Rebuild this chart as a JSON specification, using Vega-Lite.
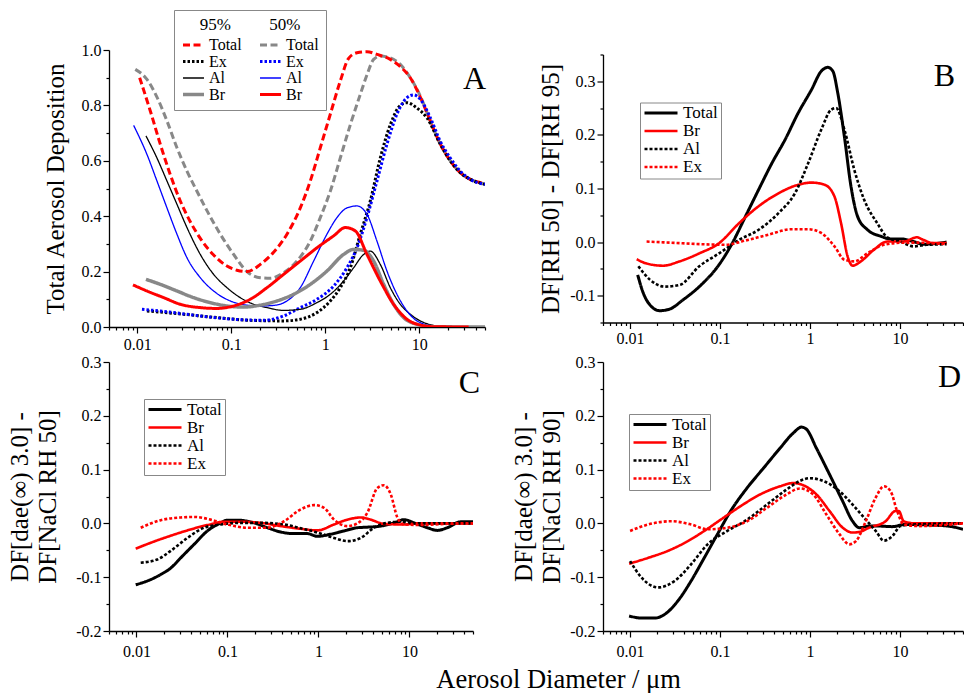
{
  "$schema": "https://vega.github.io/schema/vega-lite/v6.json",
  "padding": {"left": 7, "top": 9, "right": 0, "bottom": 0},
  "autosize": {"type": "pad"},
  "background": "white",
  "config": {
    "font": "Liberation Serif",
    "view": {"stroke": null},
    "axis": {"domainColor": "black", "tickColor": "black", "labelColor": "black", "titleColor": "black", "labelFont": "Liberation Serif", "titleFont": "Liberation Serif", "labelFontSize": 16, "titleFontSize": 25, "titleFontWeight": "normal", "grid": false, "domainWidth": 1.3, "tickWidth": 1.2, "labelOverlap": false, "labelFlush": false, "titleLineHeight": 28},
    "legend": {"labelFont": "Liberation Serif", "titleFont": "Liberation Serif", "labelColor": "black", "titleColor": "black", "labelFontSize": 17, "titleFontSize": 17, "titleFontWeight": "normal", "strokeColor": "#888888", "fillColor": "white", "symbolType": "stroke"},
    "title": {"font": "Liberation Serif", "fontWeight": "normal", "color": "black"}
  },
  "title": {"text": "Aerosol Diameter / μm", "orient": "bottom", "anchor": "middle", "fontSize": 26.5, "offset": 8, "dx": 73},
  "data": {"values": [
    {"p":"A","s":"Total 50","d":0.00952,"v":0.93},{"p":"A","s":"Total 50","d":0.01267,"v":0.894},{"p":"A","s":"Total 50","d":0.01619,"v":0.83},{"p":"A","s":"Total 50","d":0.02068,"v":0.744},{"p":"A","s":"Total 50","d":0.02642,"v":0.647},{"p":"A","s":"Total 50","d":0.03376,"v":0.563},{"p":"A","s":"Total 50","d":0.04313,"v":0.49},{"p":"A","s":"Total 50","d":0.0551,"v":0.42},{"p":"A","s":"Total 50","d":0.07638,"v":0.335},{"p":"A","s":"Total 50","d":0.1059,"v":0.262},{"p":"A","s":"Total 50","d":0.1468,"v":0.2},{"p":"A","s":"Total 50","d":0.2035,"v":0.178},{"p":"A","s":"Total 50","d":0.2599,"v":0.176},{"p":"A","s":"Total 50","d":0.3603,"v":0.196},{"p":"A","s":"Total 50","d":0.4995,"v":0.238},{"p":"A","s":"Total 50","d":0.6925,"v":0.31},{"p":"A","s":"Total 50","d":0.8846,"v":0.395},{"p":"A","s":"Total 50","d":1.13,"v":0.49},{"p":"A","s":"Total 50","d":1.444,"v":0.61},{"p":"A","s":"Total 50","d":1.845,"v":0.73},{"p":"A","s":"Total 50","d":2.357,"v":0.84},{"p":"A","s":"Total 50","d":2.775,"v":0.91},{"p":"A","s":"Total 50","d":3.267,"v":0.966},{"p":"A","s":"Total 50","d":3.846,"v":0.978},{"p":"A","s":"Total 50","d":4.914,"v":0.972},{"p":"A","s":"Total 50","d":6.278,"v":0.948},{"p":"A","s":"Total 50","d":8.02,"v":0.9},{"p":"A","s":"Total 50","d":10.25,"v":0.834},{"p":"A","s":"Total 50","d":13.09,"v":0.744},{"p":"A","s":"Total 50","d":16.73,"v":0.66},{"p":"A","s":"Total 50","d":21.37,"v":0.6},{"p":"A","s":"Total 50","d":27.31,"v":0.557},{"p":"A","s":"Total 50","d":34.88,"v":0.533},{"p":"A","s":"Total 50","d":44.57,"v":0.521},{"p":"A","s":"Total 50","d":50,"v":0.515},
    {"p":"A","s":"Total 95","d":0.01059,"v":0.9},{"p":"A","s":"Total 95","d":0.01375,"v":0.78},{"p":"A","s":"Total 95","d":0.01756,"v":0.66},{"p":"A","s":"Total 95","d":0.02244,"v":0.55},{"p":"A","s":"Total 95","d":0.02867,"v":0.455},{"p":"A","s":"Total 95","d":0.03663,"v":0.38},{"p":"A","s":"Total 95","d":0.0468,"v":0.32},{"p":"A","s":"Total 95","d":0.06488,"v":0.26},{"p":"A","s":"Total 95","d":0.08993,"v":0.22},{"p":"A","s":"Total 95","d":0.1149,"v":0.205},{"p":"A","s":"Total 95","d":0.1468,"v":0.2},{"p":"A","s":"Total 95","d":0.2035,"v":0.226},{"p":"A","s":"Total 95","d":0.282,"v":0.27},{"p":"A","s":"Total 95","d":0.3909,"v":0.335},{"p":"A","s":"Total 95","d":0.542,"v":0.43},{"p":"A","s":"Total 95","d":0.6925,"v":0.527},{"p":"A","s":"Total 95","d":0.8846,"v":0.647},{"p":"A","s":"Total 95","d":1.13,"v":0.768},{"p":"A","s":"Total 95","d":1.444,"v":0.888},{"p":"A","s":"Total 95","d":1.771,"v":0.97},{"p":"A","s":"Total 95","d":2.173,"v":0.99},{"p":"A","s":"Total 95","d":2.775,"v":0.994},{"p":"A","s":"Total 95","d":3.545,"v":0.984},{"p":"A","s":"Total 95","d":4.914,"v":0.966},{"p":"A","s":"Total 95","d":6.278,"v":0.94},{"p":"A","s":"Total 95","d":8.02,"v":0.9},{"p":"A","s":"Total 95","d":10.25,"v":0.83},{"p":"A","s":"Total 95","d":13.09,"v":0.744},{"p":"A","s":"Total 95","d":16.73,"v":0.66},{"p":"A","s":"Total 95","d":21.37,"v":0.6},{"p":"A","s":"Total 95","d":27.31,"v":0.557},{"p":"A","s":"Total 95","d":34.88,"v":0.533},{"p":"A","s":"Total 95","d":44.57,"v":0.521},{"p":"A","s":"Total 95","d":50,"v":0.515},
    {"p":"A","s":"Ex 95","d":0.01267,"v":0.058},{"p":"A","s":"Ex 95","d":0.03111,"v":0.046},{"p":"A","s":"Ex 95","d":0.07039,"v":0.034},{"p":"A","s":"Ex 95","d":0.1593,"v":0.024},{"p":"A","s":"Ex 95","d":0.3603,"v":0.022},{"p":"A","s":"Ex 95","d":0.542,"v":0.028},{"p":"A","s":"Ex 95","d":0.8152,"v":0.052},{"p":"A","s":"Ex 95","d":1.13,"v":0.094},{"p":"A","s":"Ex 95","d":1.444,"v":0.142},{"p":"A","s":"Ex 95","d":1.845,"v":0.214},{"p":"A","s":"Ex 95","d":2.357,"v":0.335},{"p":"A","s":"Ex 95","d":3.011,"v":0.455},{"p":"A","s":"Ex 95","d":3.846,"v":0.61},{"p":"A","s":"Ex 95","d":4.914,"v":0.73},{"p":"A","s":"Ex 95","d":6.278,"v":0.8},{"p":"A","s":"Ex 95","d":7.391,"v":0.81},{"p":"A","s":"Ex 95","d":9.445,"v":0.79},{"p":"A","s":"Ex 95","d":12.07,"v":0.755},{"p":"A","s":"Ex 95","d":16.73,"v":0.66},{"p":"A","s":"Ex 95","d":21.37,"v":0.6},{"p":"A","s":"Ex 95","d":27.31,"v":0.557},{"p":"A","s":"Ex 95","d":34.88,"v":0.533},{"p":"A","s":"Ex 95","d":50,"v":0.515},
    {"p":"A","s":"Ex 50","d":0.01121,"v":0.064},{"p":"A","s":"Ex 50","d":0.02068,"v":0.055},{"p":"A","s":"Ex 50","d":0.0468,"v":0.04},{"p":"A","s":"Ex 50","d":0.1059,"v":0.028},{"p":"A","s":"Ex 50","d":0.2208,"v":0.024},{"p":"A","s":"Ex 50","d":0.3603,"v":0.04},{"p":"A","s":"Ex 50","d":0.542,"v":0.07},{"p":"A","s":"Ex 50","d":0.8152,"v":0.1},{"p":"A","s":"Ex 50","d":1.227,"v":0.148},{"p":"A","s":"Ex 50","d":1.7,"v":0.214},{"p":"A","s":"Ex 50","d":2.173,"v":0.286},{"p":"A","s":"Ex 50","d":2.775,"v":0.395},{"p":"A","s":"Ex 50","d":3.545,"v":0.527},{"p":"A","s":"Ex 50","d":4.529,"v":0.66},{"p":"A","s":"Ex 50","d":5.785,"v":0.768},{"p":"A","s":"Ex 50","d":7.391,"v":0.828},{"p":"A","s":"Ex 50","d":8.702,"v":0.838},{"p":"A","s":"Ex 50","d":10.25,"v":0.822},{"p":"A","s":"Ex 50","d":13.09,"v":0.756},{"p":"A","s":"Ex 50","d":16.73,"v":0.67},{"p":"A","s":"Ex 50","d":21.37,"v":0.61},{"p":"A","s":"Ex 50","d":27.31,"v":0.563},{"p":"A","s":"Ex 50","d":34.88,"v":0.533},{"p":"A","s":"Ex 50","d":50,"v":0.515},
    {"p":"A","s":"Al 95","d":0.01236,"v":0.69},{"p":"A","s":"Al 95","d":0.01619,"v":0.61},{"p":"A","s":"Al 95","d":0.02068,"v":0.527},{"p":"A","s":"Al 95","d":0.02642,"v":0.443},{"p":"A","s":"Al 95","d":0.03376,"v":0.359},{"p":"A","s":"Al 95","d":0.0468,"v":0.262},{"p":"A","s":"Al 95","d":0.06488,"v":0.19},{"p":"A","s":"Al 95","d":0.08993,"v":0.142},{"p":"A","s":"Al 95","d":0.1246,"v":0.106},{"p":"A","s":"Al 95","d":0.1728,"v":0.082},{"p":"A","s":"Al 95","d":0.2395,"v":0.07},{"p":"A","s":"Al 95","d":0.3603,"v":0.06},{"p":"A","s":"Al 95","d":0.542,"v":0.064},{"p":"A","s":"Al 95","d":0.8152,"v":0.088},{"p":"A","s":"Al 95","d":1.13,"v":0.118},{"p":"A","s":"Al 95","d":1.567,"v":0.166},{"p":"A","s":"Al 95","d":2.002,"v":0.214},{"p":"A","s":"Al 95","d":2.558,"v":0.262},{"p":"A","s":"Al 95","d":3.011,"v":0.274},{"p":"A","s":"Al 95","d":3.846,"v":0.226},{"p":"A","s":"Al 95","d":4.914,"v":0.142},{"p":"A","s":"Al 95","d":6.278,"v":0.082},{"p":"A","s":"Al 95","d":8.02,"v":0.046},{"p":"A","s":"Al 95","d":10.25,"v":0.022},{"p":"A","s":"Al 95","d":14.21,"v":0.006},{"p":"A","s":"Al 95","d":21.37,"v":0.001},{"p":"A","s":"Al 95","d":32.15,"v":0},
    {"p":"A","s":"Al 50","d":0.00914,"v":0.728},{"p":"A","s":"Al 50","d":0.01267,"v":0.623},{"p":"A","s":"Al 50","d":0.01619,"v":0.527},{"p":"A","s":"Al 50","d":0.02068,"v":0.43},{"p":"A","s":"Al 50","d":0.02642,"v":0.335},{"p":"A","s":"Al 50","d":0.03376,"v":0.25},{"p":"A","s":"Al 50","d":0.0468,"v":0.178},{"p":"A","s":"Al 50","d":0.06488,"v":0.13},{"p":"A","s":"Al 50","d":0.09757,"v":0.094},{"p":"A","s":"Al 50","d":0.1468,"v":0.079},{"p":"A","s":"Al 50","d":0.2035,"v":0.076},{"p":"A","s":"Al 50","d":0.282,"v":0.078},{"p":"A","s":"Al 50","d":0.3909,"v":0.094},{"p":"A","s":"Al 50","d":0.542,"v":0.142},{"p":"A","s":"Al 50","d":0.7514,"v":0.238},{"p":"A","s":"Al 50","d":1.041,"v":0.335},{"p":"A","s":"Al 50","d":1.331,"v":0.395},{"p":"A","s":"Al 50","d":1.7,"v":0.43},{"p":"A","s":"Al 50","d":2.173,"v":0.437},{"p":"A","s":"Al 50","d":2.775,"v":0.407},{"p":"A","s":"Al 50","d":3.545,"v":0.31},{"p":"A","s":"Al 50","d":4.529,"v":0.202},{"p":"A","s":"Al 50","d":5.785,"v":0.118},{"p":"A","s":"Al 50","d":7.391,"v":0.058},{"p":"A","s":"Al 50","d":9.445,"v":0.022},{"p":"A","s":"Al 50","d":14.21,"v":0.004},{"p":"A","s":"Al 50","d":32.15,"v":0},
    {"p":"A","s":"Br 95","d":0.01236,"v":0.172},{"p":"A","s":"Br 95","d":0.01756,"v":0.154},{"p":"A","s":"Br 95","d":0.02642,"v":0.13},{"p":"A","s":"Br 95","d":0.03975,"v":0.106},{"p":"A","s":"Br 95","d":0.05979,"v":0.088},{"p":"A","s":"Br 95","d":0.08993,"v":0.076},{"p":"A","s":"Br 95","d":0.1353,"v":0.072},{"p":"A","s":"Br 95","d":0.2035,"v":0.079},{"p":"A","s":"Br 95","d":0.306,"v":0.094},{"p":"A","s":"Br 95","d":0.4603,"v":0.118},{"p":"A","s":"Br 95","d":0.6925,"v":0.154},{"p":"A","s":"Br 95","d":1.041,"v":0.202},{"p":"A","s":"Br 95","d":1.567,"v":0.262},{"p":"A","s":"Br 95","d":2.002,"v":0.28},{"p":"A","s":"Br 95","d":2.558,"v":0.277},{"p":"A","s":"Br 95","d":3.267,"v":0.238},{"p":"A","s":"Br 95","d":4.174,"v":0.154},{"p":"A","s":"Br 95","d":5.333,"v":0.082},{"p":"A","s":"Br 95","d":6.812,"v":0.034},{"p":"A","s":"Br 95","d":9.445,"v":0.01},{"p":"A","s":"Br 95","d":14.21,"v":0.001},{"p":"A","s":"Br 95","d":50,"v":0},
    {"p":"A","s":"Br 50","d":0.009,"v":0.152},{"p":"A","s":"Br 50","d":0.01267,"v":0.13},{"p":"A","s":"Br 50","d":0.01906,"v":0.106},{"p":"A","s":"Br 50","d":0.02867,"v":0.082},{"p":"A","s":"Br 50","d":0.0468,"v":0.07},{"p":"A","s":"Br 50","d":0.07039,"v":0.067},{"p":"A","s":"Br 50","d":0.1059,"v":0.076},{"p":"A","s":"Br 50","d":0.1593,"v":0.1},{"p":"A","s":"Br 50","d":0.2395,"v":0.142},{"p":"A","s":"Br 50","d":0.3603,"v":0.19},{"p":"A","s":"Br 50","d":0.542,"v":0.238},{"p":"A","s":"Br 50","d":0.8152,"v":0.286},{"p":"A","s":"Br 50","d":1.227,"v":0.329},{"p":"A","s":"Br 50","d":1.633,"v":0.359},{"p":"A","s":"Br 50","d":2.085,"v":0.347},{"p":"A","s":"Br 50","d":2.775,"v":0.262},{"p":"A","s":"Br 50","d":3.846,"v":0.166},{"p":"A","s":"Br 50","d":5.333,"v":0.082},{"p":"A","s":"Br 50","d":7.391,"v":0.028},{"p":"A","s":"Br 50","d":10.25,"v":0.007},{"p":"A","s":"Br 50","d":14.21,"v":0.001},{"p":"A","s":"Br 50","d":33.49,"v":0},

    {"p":"B","s":"Total","d":0.01214,"v":-0.061},{"p":"B","s":"Total","d":0.01401,"v":-0.095},{"p":"B","s":"Total","d":0.01659,"v":-0.117},{"p":"B","s":"Total","d":0.02136,"v":-0.128},{"p":"B","s":"Total","d":0.02752,"v":-0.125},{"p":"B","s":"Total","d":0.03855,"v":-0.108},{"p":"B","s":"Total","d":0.05878,"v":-0.083},{"p":"B","s":"Total","d":0.0975,"v":-0.042},{"p":"B","s":"Total","d":0.1366,"v":-0.002},{"p":"B","s":"Total","d":0.1915,"v":0.048},{"p":"B","s":"Total","d":0.2683,"v":0.098},{"p":"B","s":"Total","d":0.3759,"v":0.147},{"p":"B","s":"Total","d":0.5268,"v":0.191},{"p":"B","s":"Total","d":0.7382,"v":0.241},{"p":"B","s":"Total","d":1.034,"v":0.284},{"p":"B","s":"Total","d":1.332,"v":0.319},{"p":"B","s":"Total","d":1.577,"v":0.326},{"p":"B","s":"Total","d":1.789,"v":0.319},{"p":"B","s":"Total","d":2.031,"v":0.278},{"p":"B","s":"Total","d":2.404,"v":0.197},{"p":"B","s":"Total","d":2.846,"v":0.104},{"p":"B","s":"Total","d":3.369,"v":0.048},{"p":"B","s":"Total","d":4.339,"v":0.023},{"p":"B","s":"Total","d":6.08,"v":0.011},{"p":"B","s":"Total","d":7.831,"v":0.006},{"p":"B","s":"Total","d":10.09,"v":0.006},{"p":"B","s":"Total","d":14.13,"v":0.001},{"p":"B","s":"Total","d":18.2,"v":-0.004},{"p":"B","s":"Total","d":32.85,"v":0},
    {"p":"B","s":"Br","d":0.01184,"v":-0.032},{"p":"B","s":"Br","d":0.01525,"v":-0.04},{"p":"B","s":"Br","d":0.02323,"v":-0.044},{"p":"B","s":"Br","d":0.03544,"v":-0.036},{"p":"B","s":"Br","d":0.05878,"v":-0.021},{"p":"B","s":"Br","d":0.0975,"v":-0.002},{"p":"B","s":"Br","d":0.1618,"v":0.035},{"p":"B","s":"Br","d":0.2683,"v":0.067},{"p":"B","s":"Br","d":0.445,"v":0.091},{"p":"B","s":"Br","d":0.7382,"v":0.107},{"p":"B","s":"Br","d":1.034,"v":0.111},{"p":"B","s":"Br","d":1.449,"v":0.107},{"p":"B","s":"Br","d":1.866,"v":0.085},{"p":"B","s":"Br","d":2.21,"v":0.035},{"p":"B","s":"Br","d":2.616,"v":-0.027},{"p":"B","s":"Br","d":2.969,"v":-0.044},{"p":"B","s":"Br","d":3.665,"v":-0.036},{"p":"B","s":"Br","d":5.135,"v":-0.014},{"p":"B","s":"Br","d":7.196,"v":0.001},{"p":"B","s":"Br","d":10.97,"v":0.001},{"p":"B","s":"Br","d":15.37,"v":0.009},{"p":"B","s":"Br","d":18.2,"v":0.004},{"p":"B","s":"Br","d":23.44,"v":-0.002},{"p":"B","s":"Br","d":32.85,"v":-0.002},
    {"p":"B","s":"Al","d":0.01235,"v":-0.045},{"p":"B","s":"Al","d":0.01659,"v":-0.07},{"p":"B","s":"Al","d":0.02424,"v":-0.083},{"p":"B","s":"Al","d":0.03544,"v":-0.08},{"p":"B","s":"Al","d":0.05878,"v":-0.045},{"p":"B","s":"Al","d":0.0975,"v":-0.021},{"p":"B","s":"Al","d":0.1618,"v":0.004},{"p":"B","s":"Al","d":0.2683,"v":0.023},{"p":"B","s":"Al","d":0.445,"v":0.054},{"p":"B","s":"Al","d":0.6783,"v":0.091},{"p":"B","s":"Al","d":0.9506,"v":0.147},{"p":"B","s":"Al","d":1.332,"v":0.21},{"p":"B","s":"Al","d":1.716,"v":0.247},{"p":"B","s":"Al","d":1.947,"v":0.25},{"p":"B","s":"Al","d":2.404,"v":0.21},{"p":"B","s":"Al","d":3.097,"v":0.135},{"p":"B","s":"Al","d":3.988,"v":0.079},{"p":"B","s":"Al","d":5.588,"v":0.035},{"p":"B","s":"Al","d":7.196,"v":0.009},{"p":"B","s":"Al","d":10.09,"v":0.001},{"p":"B","s":"Al","d":14.13,"v":-0.008},{"p":"B","s":"Al","d":19.81,"v":-0.005},{"p":"B","s":"Al","d":32.85,"v":-0.004},
    {"p":"B","s":"Ex","d":0.01525,"v":0.001},{"p":"B","s":"Ex","d":0.02752,"v":-0.001},{"p":"B","s":"Ex","d":0.06397,"v":-0.004},{"p":"B","s":"Ex","d":0.1154,"v":-0.005},{"p":"B","s":"Ex","d":0.1915,"v":0.003},{"p":"B","s":"Ex","d":0.3455,"v":0.014},{"p":"B","s":"Ex","d":0.6236,"v":0.024},{"p":"B","s":"Ex","d":0.9506,"v":0.024},{"p":"B","s":"Ex","d":1.332,"v":0.017},{"p":"B","s":"Ex","d":1.866,"v":-0.008},{"p":"B","s":"Ex","d":2.404,"v":-0.033},{"p":"B","s":"Ex","d":3.097,"v":-0.036},{"p":"B","s":"Ex","d":4.339,"v":-0.021},{"p":"B","s":"Ex","d":6.615,"v":-0.005},{"p":"B","s":"Ex","d":10.97,"v":-0.001},{"p":"B","s":"Ex","d":15.37,"v":-0.001},{"p":"B","s":"Ex","d":32.85,"v":-0.004},

    {"p":"C","s":"Total","d":0.00983,"v":-0.114},{"p":"C","s":"Total","d":0.01321,"v":-0.107},{"p":"C","s":"Total","d":0.01851,"v":-0.095},{"p":"C","s":"Total","d":0.02384,"v":-0.083},{"p":"C","s":"Total","d":0.0307,"v":-0.064},{"p":"C","s":"Total","d":0.04302,"v":-0.039},{"p":"C","s":"Total","d":0.06028,"v":-0.014},{"p":"C","s":"Total","d":0.08448,"v":0.001},{"p":"C","s":"Total","d":0.1,"v":0.006},{"p":"C","s":"Total","d":0.1288,"v":0.006},{"p":"C","s":"Total","d":0.1963,"v":0.001},{"p":"C","s":"Total","d":0.2752,"v":-0.008},{"p":"C","s":"Total","d":0.3856,"v":-0.016},{"p":"C","s":"Total","d":0.5403,"v":-0.019},{"p":"C","s":"Total","d":0.7571,"v":-0.019},{"p":"C","s":"Total","d":0.975,"v":-0.024},{"p":"C","s":"Total","d":1.366,"v":-0.02},{"p":"C","s":"Total","d":1.914,"v":-0.014},{"p":"C","s":"Total","d":2.683,"v":-0.008},{"p":"C","s":"Total","d":3.455,"v":-0.007},{"p":"C","s":"Total","d":4.842,"v":-0.005},{"p":"C","s":"Total","d":6.783,"v":0.001},{"p":"C","s":"Total","d":8.739,"v":0.007},{"p":"C","s":"Total","d":11.25,"v":0.001},{"p":"C","s":"Total","d":15.77,"v":-0.008},{"p":"C","s":"Total","d":20.31,"v":-0.013},{"p":"C","s":"Total","d":26.16,"v":-0.008},{"p":"C","s":"Total","d":36.65,"v":0.003},{"p":"C","s":"Total","d":50,"v":0.003},
    {"p":"C","s":"Br","d":0.00983,"v":-0.047},{"p":"C","s":"Br","d":0.01437,"v":-0.036},{"p":"C","s":"Br","d":0.02191,"v":-0.025},{"p":"C","s":"Br","d":0.03634,"v":-0.013},{"p":"C","s":"Br","d":0.06028,"v":-0.003},{"p":"C","s":"Br","d":0.09192,"v":0.003},{"p":"C","s":"Br","d":0.1401,"v":0.003},{"p":"C","s":"Br","d":0.2324,"v":0.001},{"p":"C","s":"Br","d":0.3856,"v":-0.005},{"p":"C","s":"Br","d":0.6396,"v":-0.01},{"p":"C","s":"Br","d":0.975,"v":-0.013},{"p":"C","s":"Br","d":1.486,"v":-0.002},{"p":"C","s":"Br","d":2.083,"v":0.007},{"p":"C","s":"Br","d":2.919,"v":0.011},{"p":"C","s":"Br","d":3.759,"v":0.007},{"p":"C","s":"Br","d":5.268,"v":-0.001},{"p":"C","s":"Br","d":8.739,"v":-0.002},{"p":"C","s":"Br","d":12.24,"v":0},{"p":"C","s":"Br","d":50,"v":0},
    {"p":"C","s":"Al","d":0.01116,"v":-0.073},{"p":"C","s":"Al","d":0.01701,"v":-0.067},{"p":"C","s":"Al","d":0.02384,"v":-0.051},{"p":"C","s":"Al","d":0.03634,"v":-0.027},{"p":"C","s":"Al","d":0.05541,"v":-0.008},{"p":"C","s":"Al","d":0.08448,"v":-0.002},{"p":"C","s":"Al","d":0.1401,"v":0.001},{"p":"C","s":"Al","d":0.2324,"v":0.001},{"p":"C","s":"Al","d":0.4195,"v":-0.002},{"p":"C","s":"Al","d":0.6396,"v":-0.009},{"p":"C","s":"Al","d":0.975,"v":-0.017},{"p":"C","s":"Al","d":1.486,"v":-0.027},{"p":"C","s":"Al","d":2.083,"v":-0.033},{"p":"C","s":"Al","d":2.919,"v":-0.027},{"p":"C","s":"Al","d":4.09,"v":-0.008},{"p":"C","s":"Al","d":5.732,"v":0.001},{"p":"C","s":"Al","d":8.032,"v":0.003},{"p":"C","s":"Al","d":11.25,"v":0},{"p":"C","s":"Al","d":50,"v":0},
    {"p":"C","s":"Ex","d":0.01116,"v":-0.008},{"p":"C","s":"Ex","d":0.01851,"v":0.006},{"p":"C","s":"Ex","d":0.0307,"v":0.011},{"p":"C","s":"Ex","d":0.04302,"v":0.012},{"p":"C","s":"Ex","d":0.06558,"v":0.007},{"p":"C","s":"Ex","d":0.1,"v":-0.002},{"p":"C","s":"Ex","d":0.1659,"v":-0.008},{"p":"C","s":"Ex","d":0.2752,"v":-0.008},{"p":"C","s":"Ex","d":0.4195,"v":0.004},{"p":"C","s":"Ex","d":0.6396,"v":0.026},{"p":"C","s":"Ex","d":0.8962,"v":0.034},{"p":"C","s":"Ex","d":1.154,"v":0.029},{"p":"C","s":"Ex","d":1.486,"v":0.007},{"p":"C","s":"Ex","d":2.083,"v":-0.005},{"p":"C","s":"Ex","d":2.683,"v":0},{"p":"C","s":"Ex","d":3.455,"v":0.02},{"p":"C","s":"Ex","d":4.45,"v":0.066},{"p":"C","s":"Ex","d":5.268,"v":0.071},{"p":"C","s":"Ex","d":6.236,"v":0.054},{"p":"C","s":"Ex","d":7.382,"v":0.011},{"p":"C","s":"Ex","d":8.739,"v":-0.002},{"p":"C","s":"Ex","d":13.32,"v":-0.003},{"p":"C","s":"Ex","d":24.04,"v":-0.001},{"p":"C","s":"Ex","d":50,"v":0},

    {"p":"D","s":"Total","d":0.00975,"v":-0.172},{"p":"D","s":"Total","d":0.01343,"v":-0.176},{"p":"D","s":"Total","d":0.01882,"v":-0.176},{"p":"D","s":"Total","d":0.02424,"v":-0.169},{"p":"D","s":"Total","d":0.03398,"v":-0.144},{"p":"D","s":"Total","d":0.0476,"v":-0.107},{"p":"D","s":"Total","d":0.06672,"v":-0.064},{"p":"D","s":"Total","d":0.09348,"v":-0.02},{"p":"D","s":"Total","d":0.131,"v":0.023},{"p":"D","s":"Total","d":0.1997,"v":0.066},{"p":"D","s":"Total","d":0.3045,"v":0.103},{"p":"D","s":"Total","d":0.4642,"v":0.14},{"p":"D","s":"Total","d":0.6506,"v":0.168},{"p":"D","s":"Total","d":0.8035,"v":0.179},{"p":"D","s":"Total","d":0.9115,"v":0.175},{"p":"D","s":"Total","d":1.174,"v":0.14},{"p":"D","s":"Total","d":1.645,"v":0.091},{"p":"D","s":"Total","d":2.305,"v":0.041},{"p":"D","s":"Total","d":2.969,"v":0.004},{"p":"D","s":"Total","d":3.514,"v":-0.008},{"p":"D","s":"Total","d":4.525,"v":-0.005},{"p":"D","s":"Total","d":5.83,"v":-0.005},{"p":"D","s":"Total","d":8.168,"v":-0.006},{"p":"D","s":"Total","d":11.44,"v":-0.002},{"p":"D","s":"Total","d":20.65,"v":-0.003},{"p":"D","s":"Total","d":34.26,"v":-0.005},{"p":"D","s":"Total","d":50,"v":-0.011},
    {"p":"D","s":"Br","d":0.00975,"v":-0.075},{"p":"D","s":"Br","d":0.0159,"v":-0.064},{"p":"D","s":"Br","d":0.02637,"v":-0.051},{"p":"D","s":"Br","d":0.04375,"v":-0.033},{"p":"D","s":"Br","d":0.06672,"v":-0.014},{"p":"D","s":"Br","d":0.1017,"v":0.007},{"p":"D","s":"Br","d":0.1687,"v":0.032},{"p":"D","s":"Br","d":0.2799,"v":0.054},{"p":"D","s":"Br","d":0.4642,"v":0.069},{"p":"D","s":"Br","d":0.6506,"v":0.075},{"p":"D","s":"Br","d":0.838,"v":0.071},{"p":"D","s":"Br","d":1.174,"v":0.054},{"p":"D","s":"Br","d":1.645,"v":0.023},{"p":"D","s":"Br","d":2.305,"v":-0.008},{"p":"D","s":"Br","d":2.969,"v":-0.017},{"p":"D","s":"Br","d":3.514,"v":-0.016},{"p":"D","s":"Br","d":4.525,"v":-0.008},{"p":"D","s":"Br","d":6.899,"v":0.004},{"p":"D","s":"Br","d":8.889,"v":0.023},{"p":"D","s":"Br","d":9.668,"v":0.023},{"p":"D","s":"Br","d":10.97,"v":0.004},{"p":"D","s":"Br","d":14.74,"v":0},{"p":"D","s":"Br","d":50,"v":0},
    {"p":"D","s":"Al","d":0.01,"v":-0.07},{"p":"D","s":"Al","d":0.01343,"v":-0.101},{"p":"D","s":"Al","d":0.02048,"v":-0.119},{"p":"D","s":"Al","d":0.03123,"v":-0.107},{"p":"D","s":"Al","d":0.0476,"v":-0.076},{"p":"D","s":"Al","d":0.07259,"v":-0.039},{"p":"D","s":"Al","d":0.1204,"v":-0.014},{"p":"D","s":"Al","d":0.1997,"v":0.007},{"p":"D","s":"Al","d":0.3313,"v":0.035},{"p":"D","s":"Al","d":0.5495,"v":0.063},{"p":"D","s":"Al","d":0.77,"v":0.079},{"p":"D","s":"Al","d":0.9915,"v":0.084},{"p":"D","s":"Al","d":1.39,"v":0.079},{"p":"D","s":"Al","d":2.118,"v":0.06},{"p":"D","s":"Al","d":2.969,"v":0.035},{"p":"D","s":"Al","d":4.159,"v":0.007},{"p":"D","s":"Al","d":5.356,"v":-0.014},{"p":"D","s":"Al","d":6.615,"v":-0.032},{"p":"D","s":"Al","d":8.168,"v":-0.024},{"p":"D","s":"Al","d":10.09,"v":-0.005},{"p":"D","s":"Al","d":13.55,"v":-0.002},{"p":"D","s":"Al","d":50,"v":0},
    {"p":"D","s":"Ex","d":0.01,"v":-0.014},{"p":"D","s":"Ex","d":0.0159,"v":-0.002},{"p":"D","s":"Ex","d":0.0287,"v":0.004},{"p":"D","s":"Ex","d":0.0476,"v":-0.002},{"p":"D","s":"Ex","d":0.07259,"v":-0.011},{"p":"D","s":"Ex","d":0.1204,"v":-0.008},{"p":"D","s":"Ex","d":0.1997,"v":0.004},{"p":"D","s":"Ex","d":0.3313,"v":0.029},{"p":"D","s":"Ex","d":0.5495,"v":0.054},{"p":"D","s":"Ex","d":0.77,"v":0.065},{"p":"D","s":"Ex","d":1.079,"v":0.054},{"p":"D","s":"Ex","d":1.512,"v":0.017},{"p":"D","s":"Ex","d":2.118,"v":-0.02},{"p":"D","s":"Ex","d":2.729,"v":-0.039},{"p":"D","s":"Ex","d":3.23,"v":-0.033},{"p":"D","s":"Ex","d":4.159,"v":0.004},{"p":"D","s":"Ex","d":5.356,"v":0.048},{"p":"D","s":"Ex","d":6.615,"v":0.069},{"p":"D","s":"Ex","d":7.831,"v":0.06},{"p":"D","s":"Ex","d":9.27,"v":0.023},{"p":"D","s":"Ex","d":10.97,"v":-0.002},{"p":"D","s":"Ex","d":16.04,"v":-0.005},{"p":"D","s":"Ex","d":50,"v":0}
  ]},
  "columns": 2,
  "spacing": {"row": 35, "column": 118},
  "bounds": "flush",
  "align": "each",
  "center": {"row": true, "column": false},
  "resolve": {"scale": {"color": "independent", "strokeDash": "independent", "strokeWidth": "independent", "x": "independent", "y": "independent"}, "legend": {"color": "independent", "strokeDash": "independent", "strokeWidth": "independent"}},
  "concat": [
    {
      "width": 376, "height": 277,
      "title": {"text": "A", "orient": "top", "anchor": "end", "frame": "group", "fontSize": 32, "baseline": "alphabetic", "offset": -111, "dx": 1},
      "transform": [{"filter": "datum.p == 'A'"}],
      "mark": {"type": "line", "interpolate": "monotone", "clip": true},
      "encoding": {
        "x": {"field": "d", "type": "quantitative", "scale": {"type": "log", "domain": [0.005, 50], "nice": false},
          "axis": {"title": null, "values": [0.005,0.006,0.007,0.008,0.009,0.01,0.02,0.03,0.04,0.05,0.06,0.07,0.08,0.09,0.1,0.2,0.3,0.4,0.5,0.6,0.7,0.8,0.9,1,2,3,4,5,6,7,8,9,10,20,30,40,50],
            "labelExpr": "datum.value==0.01?'0.01':datum.value==0.1?'0.1':datum.value==1?'1':datum.value==10?'10':''",
            "tickSize": {"condition": {"test": "indexof([0.01,0.1,1,10], datum.value) >= 0", "value": 6}, "value": 3}, "labelPadding": 3}},
        "y": {"field": "v", "type": "quantitative", "scale": {"domain": [0, 1], "nice": false, "zero": false},
          "axis": {"title": "Total Aerosol Deposition", "values": [0,0.1,0.2,0.3,0.4,0.5,0.6,0.7,0.8,0.9,1], "labelExpr": "round(datum.value*10)%2==0 ? format(datum.value,'.1f') : ''",
            "tickSize": {"condition": {"test": "round(datum.value*10)%2==0", "value": 6}, "value": 3}, "labelPadding": 2, "titlePadding": 13}},
        "color": {"field": "s", "type": "nominal",
          "scale": {"domain": ["Total 95","Ex 95","Al 95","Br 95","Total 50","Ex 50","Al 50","Br 50"], "range": ["#ff0000","#000000","#000000","#888888","#888888","#0000ff","#0000ff","#ff0000"]},
          "legend": {"orient": "none", "legendX": 65, "legendY": -40, "columns": 2, "title": "95%\u00a0\u00a0\u00a0\u00a0\u00a0\u00a0\u00a0\u00a0\u00a050%", "titleAnchor": "middle", "labelExpr": "split(datum.label, ' ')[0]", "symbolSize": 440, "clipHeight": 14, "rowPadding": 0.5, "columnPadding": 16, "labelOffset": 3, "padding": 7, "labelFontSize": 16, "titlePadding": 4}},
        "strokeDash": {"field": "s", "type": "nominal", "scale": {"domain": ["Total 95","Ex 95","Al 95","Br 95","Total 50","Ex 50","Al 50","Br 50"], "range": [[7,3.5],[2.5,2],[1,0],[1,0],[7,3.5],[2.5,2],[1,0],[1,0]]}},
        "strokeWidth": {"field": "s", "type": "nominal", "scale": {"type": "ordinal", "domain": ["Total 95","Ex 95","Al 95","Br 95","Total 50","Ex 50","Al 50","Br 50"], "range": [3,3,1.3,3.5,3,3,1.3,3]}}
      }
    },
    {
      "width": 360, "height": 268,
      "title": {"text": "B", "orient": "top", "anchor": "end", "frame": "group", "fontSize": 32, "baseline": "alphabetic", "offset": -71, "dx": -8},
      "transform": [{"filter": "datum.p == 'B'"}],
      "mark": {"type": "line", "interpolate": "monotone", "clip": true},
      "encoding": {
        "x": {"field": "d", "type": "quantitative", "scale": {"type": "log", "domain": [0.005, 50], "nice": false},
          "axis": {"title": null, "values": [0.005,0.006,0.007,0.008,0.009,0.01,0.02,0.03,0.04,0.05,0.06,0.07,0.08,0.09,0.1,0.2,0.3,0.4,0.5,0.6,0.7,0.8,0.9,1,2,3,4,5,6,7,8,9,10,20,30,40,50],
            "labelExpr": "datum.value==0.01?'0.01':datum.value==0.1?'0.1':datum.value==1?'1':datum.value==10?'10':''",
            "tickSize": {"condition": {"test": "indexof([0.01,0.1,1,10], datum.value) >= 0", "value": 6}, "value": 3}, "labelPadding": 2}},
        "y": {"field": "v", "type": "quantitative", "scale": {"domain": [-0.15, 0.35], "nice": false, "zero": false},
          "axis": {"title": "DF[RH 50] - DF[RH 95]", "values": [-0.15,-0.1,-0.05,0,0.05,0.1,0.15,0.2,0.25,0.3,0.35], "labelExpr": "abs(datum.value*10 - round(datum.value*10)) < 0.001 ? replace(format(datum.value,'.1f'),'\u2212','-') : ''",
            "tickSize": {"condition": {"test": "abs(datum.value*10 - round(datum.value*10)) < 0.001", "value": 6}, "value": 3}, "labelPadding": 2, "titlePadding": 6}},
        "color": {"field": "s", "type": "nominal", "scale": {"domain": ["Total","Br","Al","Ex"], "range": ["#000000","#ff0000","#000000","#ff0000"]},
          "legend": {"orient": "none", "legendX": 37, "legendY": 48, "title": null, "symbolSize": 1089, "clipHeight": 15, "rowPadding": 0, "labelOffset": 4, "padding": 3, "labelFontSize": 17}},
        "strokeDash": {"field": "s", "type": "nominal", "scale": {"domain": ["Total","Br","Al","Ex"], "range": [[1,0],[1,0],[3,2],[3,2]]}},
        "strokeWidth": {"field": "s", "type": "nominal", "scale": {"type": "ordinal", "domain": ["Total","Br","Al","Ex"], "range": [3,2.6,2.6,2.6]}}
      }
    },
    {
      "width": 364, "height": 269,
      "title": {"text": "C", "orient": "top", "anchor": "end", "frame": "group", "fontSize": 32, "baseline": "alphabetic", "offset": -71, "dx": 7},
      "transform": [{"filter": "datum.p == 'C'"}],
      "mark": {"type": "line", "interpolate": "monotone", "clip": true},
      "encoding": {
        "x": {"field": "d", "type": "quantitative", "scale": {"type": "log", "domain": [0.005, 50], "nice": false},
          "axis": {"title": null, "values": [0.005,0.006,0.007,0.008,0.009,0.01,0.02,0.03,0.04,0.05,0.06,0.07,0.08,0.09,0.1,0.2,0.3,0.4,0.5,0.6,0.7,0.8,0.9,1,2,3,4,5,6,7,8,9,10,20,30,40,50],
            "labelExpr": "datum.value==0.01?'0.01':datum.value==0.1?'0.1':datum.value==1?'1':datum.value==10?'10':''",
            "tickSize": {"condition": {"test": "indexof([0.01,0.1,1,10], datum.value) >= 0", "value": 6}, "value": 3}, "labelPadding": 6}},
        "y": {"field": "v", "type": "quantitative", "scale": {"domain": [-0.2, 0.3], "nice": false, "zero": false},
          "axis": {"title": ["DF[dae(∞) 3.0] -", "DF[NaCl RH 50]"], "values": [-0.2,-0.15,-0.1,-0.05,0,0.05,0.1,0.15,0.2,0.25,0.3], "labelExpr": "abs(datum.value*10 - round(datum.value*10)) < 0.001 ? replace(format(datum.value,'.1f'),'\u2212','-') : ''",
            "tickSize": {"condition": {"test": "abs(datum.value*10 - round(datum.value*10)) < 0.001", "value": 6}, "value": 3}, "labelPadding": 2, "titlePadding": 15}},
        "color": {"field": "s", "type": "nominal", "scale": {"domain": ["Total","Br","Al","Ex"], "range": ["#000000","#ff0000","#000000","#ff0000"]},
          "legend": {"orient": "none", "legendX": 35, "legendY": 37, "title": null, "symbolSize": 1089, "clipHeight": 15, "rowPadding": 0, "labelOffset": 4, "padding": 3, "labelFontSize": 17}},
        "strokeDash": {"field": "s", "type": "nominal", "scale": {"domain": ["Total","Br","Al","Ex"], "range": [[1,0],[1,0],[3,2],[3,2]]}},
        "strokeWidth": {"field": "s", "type": "nominal", "scale": {"type": "ordinal", "domain": ["Total","Br","Al","Ex"], "range": [3,2.6,2.6,2.6]}}
      }
    },
    {
      "width": 360, "height": 269,
      "title": {"text": "D", "orient": "top", "anchor": "end", "frame": "group", "fontSize": 32, "baseline": "alphabetic", "offset": -65, "dx": -2},
      "transform": [{"filter": "datum.p == 'D'"}],
      "mark": {"type": "line", "interpolate": "monotone", "clip": true},
      "encoding": {
        "x": {"field": "d", "type": "quantitative", "scale": {"type": "log", "domain": [0.005, 50], "nice": false},
          "axis": {"title": null, "values": [0.005,0.006,0.007,0.008,0.009,0.01,0.02,0.03,0.04,0.05,0.06,0.07,0.08,0.09,0.1,0.2,0.3,0.4,0.5,0.6,0.7,0.8,0.9,1,2,3,4,5,6,7,8,9,10,20,30,40,50],
            "labelExpr": "datum.value==0.01?'0.01':datum.value==0.1?'0.1':datum.value==1?'1':datum.value==10?'10':''",
            "tickSize": {"condition": {"test": "indexof([0.01,0.1,1,10], datum.value) >= 0", "value": 6}, "value": 3}, "labelPadding": 6}},
        "y": {"field": "v", "type": "quantitative", "scale": {"domain": [-0.2, 0.3], "nice": false, "zero": false},
          "axis": {"title": ["DF[dae(∞) 3.0] -", "DF[NaCl RH 90]"], "values": [-0.2,-0.15,-0.1,-0.05,0,0.05,0.1,0.15,0.2,0.25,0.3], "labelExpr": "abs(datum.value*10 - round(datum.value*10)) < 0.001 ? replace(format(datum.value,'.1f'),'\u2212','-') : ''",
            "tickSize": {"condition": {"test": "abs(datum.value*10 - round(datum.value*10)) < 0.001", "value": 6}, "value": 3}, "labelPadding": 2, "titlePadding": 5}},
        "color": {"field": "s", "type": "nominal", "scale": {"domain": ["Total","Br","Al","Ex"], "range": ["#000000","#ff0000","#000000","#ff0000"]},
          "legend": {"orient": "none", "legendX": 26, "legendY": 52, "title": null, "symbolSize": 1089, "clipHeight": 15, "rowPadding": 0, "labelOffset": 4, "padding": 3, "labelFontSize": 17}},
        "strokeDash": {"field": "s", "type": "nominal", "scale": {"domain": ["Total","Br","Al","Ex"], "range": [[1,0],[1,0],[3,2],[3,2]]}},
        "strokeWidth": {"field": "s", "type": "nominal", "scale": {"type": "ordinal", "domain": ["Total","Br","Al","Ex"], "range": [3,2.6,2.6,2.6]}}
      }
    }
  ]
}
